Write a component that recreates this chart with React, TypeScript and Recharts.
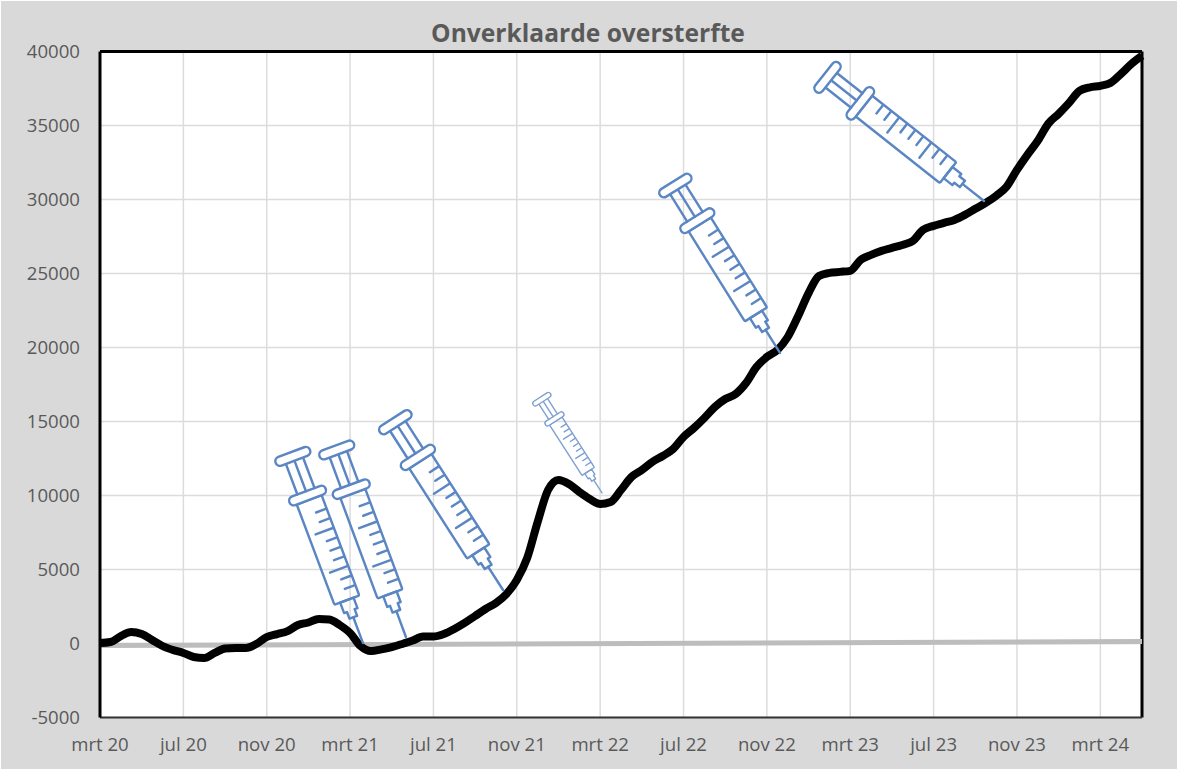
import React from 'react';
import { LineChart, Line, XAxis, YAxis, CartesianGrid, ReferenceDot, ReferenceLine } from 'recharts';

// x axis is counted in months since mrt 20, values read every half month
const tickLabels = ['mrt 20', 'jul 20', 'nov 20', 'mrt 21', 'jul 21', 'nov 21', 'mrt 22', 'jul 22', 'nov 22', 'mrt 23', 'jul 23', 'nov 23', 'mrt 24'];
const monthTicks = [0, 4, 8, 12, 16, 20, 24, 28, 32, 36, 40, 44, 48];
const valueTicks = [-5000, 0, 5000, 10000, 15000, 20000, 25000, 30000, 35000, 40000];

const excessDeaths = [
  30, 100, 500, 780, 640, 240, -170, -440, -640, -910,
  -980, -640, -340, -300, -300, -30, 440, 640, 840, 1250,
  1420, 1660, 1620, 1250, 710, -170, -510, -400, -240, -30,
  200, 470, 470, 640, 980, 1390, 1860, 2330, 2740, 3340,
  4290, 5780, 8210, 10370, 11050, 10780, 10240, 9760, 9420, 9560,
  10370, 11250, 11720, 12260, 12670, 13140, 13950, 14560, 15240, 15980,
  16520, 16860, 17600, 18680, 19360, 19830, 20710, 22130, 23680, 24830,
  25040, 25110, 25180, 25920, 26260, 26530, 26730, 26930, 27200, 27950,
  28220, 28420, 28620, 28960, 29370, 29770, 30250, 30860, 32000, 33020,
  33970, 35120, 35790, 36530, 37340, 37580, 37680, 37890, 38500, 39170, 39710,
];

const baseline = [
  { month: 0, value: -135 },
  { month: 50, value: 135 },
];

const syringes = [
  { month: 12.62, value: 30, angle: -20.6, scale: 1.02, color: '#5b86c4' },
  { month: 14.68, value: 440, angle: -20.3, scale: 1.02, color: '#5b86c4' },
  { month: 19.34, value: 3615, angle: -32.7, scale: 1.02, color: '#5b86c4' },
  { month: 24.09, value: 10170, angle: -32.7, scale: 0.57, color: '#7c9fd2' },
  { month: 32.63, value: 19630, angle: -32, scale: 1.01, color: '#5b86c4' },
  { month: 42.42, value: 29900, angle: -51.7, scale: 1.02, color: '#5b86c4' },
];

const tableData = excessDeaths.map((value, i) => ({ month: i / 2, value }));

const barrelTicks = [56, 66, 76, 86, 96, 106, 116, 126, 136];

// tip of the needle sits at 0,0 and the syringe runs up from there
const Syringe = ({ cx, cy, angle, scale, color }: any) => (
  <g
    transform={`translate(${cx} ${cy}) rotate(${angle}) scale(${scale})`}
    fill="none"
    stroke={color}
    strokeWidth={2.4}
    strokeLinejoin="round"
    strokeLinecap="round"
  >
    <path d="M0 0 L0 -27" />
    <path d="M-4 -27 L4 -27 L4 -34 L7 -34 L7 -45 L-7 -45 L-7 -34 L-4 -34 Z" />
    <path d="M-12 -45 L12 -45 Q13 -45 13 -47 L13 -150 L-13 -150 L-13 -47 Q-13 -45 -12 -45 Z" />
    <rect x={-19} y={-159} width={38} height={9} rx={4.5} fill="#fff" />
    <path d="M-9 -159 L-9 -191 M0 -159 L0 -191 M9 -159 L9 -191" />
    <rect x={-18} y={-200} width={36} height={9} rx={4.5} fill="#fff" />
    {barrelTicks.map((y, i) => (
      <path key={y} d={`M12 ${-y} L${i % 4 === 2 ? -6 : 2} ${-y}`} />
    ))}
  </g>
);

export default function App() {
  return (
    <div style={{ position: 'absolute', left: 0, top: 0, width: 1179, height: 771, background: '#fff' }}>
      <div style={{ position: 'absolute', left: 1, top: 1, width: 1176, height: 768, background: '#d9d9d9' }} />
      <div
        style={{
          position: 'absolute',
          left: 0,
          top: 16,
          width: 1176,
          textAlign: 'center',
          fontFamily: '"Open Sans", sans-serif',
          fontWeight: 700,
          fontSize: 24.6,
          lineHeight: '34px',
          color: '#595959',
        }}
      >
        Onverklaarde oversterfte
      </div>
      <div style={{ position: 'absolute', left: 0, top: 0 }}>
        <LineChart width={1179} height={771} data={tableData} margin={{ top: 51.5, right: 37, left: 0, bottom: 0 }}>
          <CartesianGrid fill="#fff" stroke="#dcdcdc" strokeWidth={1.5} />
          <XAxis
            dataKey="month"
            type="number"
            domain={[0, 50]}
            ticks={monthTicks}
            tickFormatter={(m: number) => tickLabels[monthTicks.indexOf(m)]}
            interval={0}
            height={53.5}
            tickLine={false}
            tickSize={0}
            tickMargin={20}
            axisLine={{ stroke: '#333', strokeWidth: 2 }}
            tick={{ fill: '#595959', fontSize: 18.6, fontFamily: '"Open Sans", sans-serif' }}
          />
          <YAxis
            type="number"
            domain={[-5000, 40000]}
            ticks={valueTicks}
            interval={0}
            width={100}
            tickLine={false}
            tickSize={0}
            tickMargin={20}
            axisLine={{ stroke: '#000', strokeWidth: 3 }}
            tick={{ fill: '#595959', fontSize: 18.6, fontFamily: '"Open Sans", sans-serif' }}
          />
          <ReferenceLine y={40000} stroke="#000" strokeWidth={3} />
          <ReferenceLine x={50} stroke="#000" strokeWidth={3} />
          {syringes.map((s) => (
            <ReferenceDot
              key={s.month}
              x={s.month}
              y={s.value}
              ifOverflow="visible"
              shape={(p: any) => <Syringe cx={p.cx} cy={p.cy} angle={s.angle} scale={s.scale} color={s.color} />}
            />
          ))}
          <Line
            data={baseline}
            dataKey="value"
            type="linear"
            stroke="#bdbdbd"
            strokeWidth={5}
            dot={false}
            isAnimationActive={false}
          />
          <Line
            dataKey="value"
            type="monotone"
            stroke="#000"
            strokeWidth={8}
            strokeLinejoin="round"
            dot={false}
            isAnimationActive={false}
          />
        </LineChart>
      </div>
    </div>
  );
}
